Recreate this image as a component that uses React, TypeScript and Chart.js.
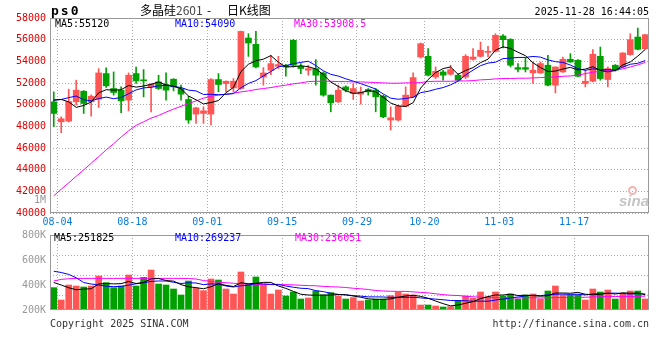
import React, { useEffect, useRef } from "react";
import { Chart, registerables } from "chart.js";

Chart.register(...registerables);

const DATES = [
  "08-01","08-04","08-05","08-06","08-07","08-08","08-11","08-12","08-13","08-14","08-15",
  "08-18","08-19","08-20","08-21","08-22","08-25","08-26","08-27","08-28","08-29",
  "09-01","09-02","09-03","09-04","09-05","09-08","09-09","09-10","09-11","09-12",
  "09-15","09-16","09-17","09-18","09-19","09-22","09-23","09-24","09-25","09-26","09-29","09-30",
  "10-09","10-10","10-13","10-14","10-15","10-16","10-17","10-20","10-21","10-22","10-23","10-24",
  "10-27","10-28","10-29","10-30","10-31",
  "11-03","11-04","11-05","11-06","11-07","11-10","11-11","11-12","11-13","11-14",
  "11-17","11-18","11-19","11-20","11-21","11-24","11-25","11-26","11-27","11-28",
];
const DATE_TICKS = ["08-04", "08-18", "09-01", "09-15", "09-29", "10-20", "11-03", "11-17"];

const OPEN = [
  50260,48420,48480,50260,51240,50260,50510,52870,51490,51340,
  50420,52870,52260,51640,52100,51860,52350,51490,50480,49130,
  49190,49130,52320,51950,51550,51490,56150,55570,52560,53180,
  53540,53640,55940,53540,53180,53330,52930,50880,50260,51640,
  51030,50970,51400,51340,50780,48580,48580,49860,50720,54400,
  54460,52560,53020,52810,52720,52560,54190,54460,54830,54920,
  56340,56030,53420,53420,52930,52930,53640,51800,53020,54190,
  54100,51950,52160,54460,52320,53640,53480,54620,56240,55170,
];
const HIGH = [
  51180,48880,51430,52260,51300,50900,53330,53390,53020,51640,
  52930,53480,53240,51950,52720,52930,52400,51800,50780,49750,
  49800,52410,52870,52200,52410,56800,56550,56760,53420,54560,
  54460,53730,56030,53790,53640,54160,53020,50900,51800,51740,
  51950,51640,51490,51490,50880,49800,49960,51640,52930,55700,
  55170,53480,53180,53640,52870,54620,55170,55780,55380,56550,
  56460,56090,53790,54340,53940,53940,54560,53500,54400,54710,
  54160,53180,55080,55320,53480,53700,54800,56550,57070,56500,
];
const LOW = [
  47960,47410,48400,49960,49190,48940,49740,51600,50880,49250,
  49430,51950,50720,49340,51400,50420,51270,50420,48270,48270,
  48270,48120,51180,51180,51180,51400,54460,53390,51800,52780,
  53330,52620,53480,52870,52720,51800,50780,49340,50200,51180,
  50480,50050,50880,49340,48790,47660,48500,49800,50660,54300,
  52650,52410,52260,52720,52200,52410,54100,54400,54400,54860,
  55230,53480,53020,53020,51950,52870,51740,51090,52980,53900,
  52560,51640,52100,52260,51640,53100,53420,54560,55050,55100,
];
const CLOSE = [
  49190,48700,50290,51340,50110,50780,52930,51740,51120,50350,
  52720,52190,52200,51890,51490,51340,51640,50970,48580,49710,
  49430,52320,51860,52160,52160,56760,55690,53480,52930,53790,
  53700,53480,53640,53330,53330,52720,50880,50170,51340,51340,
  51490,51180,51180,50720,48880,48790,49860,50880,52500,55630,
  52720,53080,52720,53240,52260,54460,54400,55020,54880,56400,
  56000,53640,53270,53270,53180,53790,51800,53480,54190,53940,
  52620,52160,54650,52410,53330,53180,54770,56000,55110,56460,
];

const MA5 = [
  50420,50480,50260,49750,49930,50240,51090,51380,51340,51380,
  51770,51620,51720,51870,52100,51820,51710,51470,50800,50450,
  50070,50200,50380,51100,51590,53050,53730,54050,54200,54530,
  53920,53480,53510,53590,53500,53300,52780,52090,51690,51290,
  51040,51100,51310,51180,50690,50150,49890,49830,50180,51530,
  52320,52960,53330,53480,52800,53150,53420,53880,54200,55030,
  55340,55190,54840,54520,53870,53430,53060,53100,53290,53440,
  53210,53280,53510,53160,53030,53150,53670,53940,54480,55100,
];
const MA10 = [
  50420,50480,50650,50800,50450,50350,50560,50700,50550,50660,
  51010,51360,51550,51600,51740,51800,51670,51590,51340,51270,
  50940,50960,50920,50950,51020,51560,51960,52220,52650,53060,
  53490,53600,53780,53900,54010,53610,53130,52800,52640,52390,
  52170,51940,51700,51440,50990,50600,50500,50570,50680,51110,
  51230,51420,51580,51830,52170,52740,53190,53600,53840,53920,
  54250,54300,54360,54360,54450,54390,54130,53970,53900,53660,
  53320,53170,53310,53220,53240,53180,53470,53730,53820,54070,
];
const MA30 = [
  41580,42200,42780,43390,43980,44590,45200,45820,46400,47010,
  47590,48090,48420,48760,49000,49310,49590,49850,50100,50350,
  50600,50780,50880,50970,51060,51180,51270,51400,51490,51580,
  51700,51800,51920,52010,52130,52160,52160,52160,52130,52130,
  52100,52100,52070,52040,52010,51980,51980,52010,52010,52040,
  52130,52160,52160,52160,52190,52190,52220,52290,52320,52380,
  52410,52410,52440,52440,52470,52500,52530,52560,52620,52650,
  52720,52870,52990,53080,53150,53210,53300,53480,53670,53900,
];

// volume, in K as labelled on the volume axis
const VOLUME = [
  379,280,400,392,384,392,472,419,379,392,
  480,392,461,520,408,400,368,320,432,373,
  355,448,440,368,328,504,408,464,400,328,
  360,312,344,288,296,352,320,339,312,288,
  299,272,280,288,288,315,341,328,320,240,
  240,232,224,227,277,312,293,344,307,344,
  312,328,288,320,328,288,352,392,320,320,
  320,280,368,344,360,288,328,352,352,288,
];
const VOL_MA5 = [
  420,400,378,362,367,370,408,412,409,411,
  428,412,421,449,452,436,431,403,386,379,
  370,386,410,397,388,418,410,414,421,421,
  392,373,349,326,320,318,320,319,324,322,
  312,302,290,285,285,289,302,312,318,309,
  294,272,251,233,240,254,267,291,307,320,
  320,327,316,318,315,310,315,336,336,334,
  341,326,322,326,334,328,338,334,336,322,
];
const VOL_MA10 = [
  510,500,485,458,420,408,400,390,387,389,
  399,410,417,429,432,432,422,412,418,416,
  403,409,407,392,384,394,398,412,409,405,
  405,392,382,374,371,355,347,334,325,321,
  315,311,305,305,304,301,302,301,302,297,
  292,287,282,276,275,274,270,271,270,280,
  287,297,304,313,318,315,321,326,327,325,
  326,321,329,331,334,335,332,328,331,328,
];
const VOL_MA30 = [
  432,445,450,453,453,453,453,453,453,453,
  453,453,453,453,453,453,453,453,452,448,
  436,428,422,418,414,410,407,405,404,403,
  402,403,401,398,395,394,389,386,384,380,
  374,370,364,356,352,350,349,349,345,341,
  337,330,323,318,316,310,306,302,299,299,
  298,298,296,298,299,296,298,299,300,301,
  301,302,305,306,309,308,307,308,309,311,
];
const VOL_TICKS = [200, 400, 600, 800];
const VOL_GRID = [320, 480, 640];

const UP = "#ff5555";
const DOWN = "#00a000";
const GRID = "#aaaaaa";
const MONO = '"DejaVu Sans Mono", monospace';

const candleColors = CLOSE.map((c, i) => (c >= OPEN[i] ? UP : DOWN));

const framePlugin = {
  id: "frame",
  afterDraw(chart: any) {
    const { ctx, chartArea: a } = chart;
    ctx.save();
    ctx.strokeStyle = "#999999";
    ctx.lineWidth = 1;
    ctx.strokeRect(
      Math.round(a.left) + 0.5,
      Math.round(a.top) + 0.5,
      Math.round(a.right - a.left) - 1,
      Math.round(a.bottom - a.top) - 1
    );
    ctx.restore();
  },
};

const xGridColor = (ctx: any) =>
  typeof ctx.index === "number" && DATE_TICKS.includes(DATES[ctx.index]) ? GRID : "rgba(0,0,0,0)";

function line(label: string, data: number[], color: string, yAxisID = "y") {
  return {
    type: "line" as const,
    label,
    data,
    yAxisID,
    borderColor: color,
    backgroundColor: color,
    borderWidth: 1,
    pointRadius: 0,
    tension: 0,
    order: 0,
  };
}

function Txt(props: { x?: number; r?: number; top: number; color?: string; size?: number; font?: string; weight?: any; ls?: number; children: any; italic?: boolean }) {
  const s: React.CSSProperties = {
    position: "absolute",
    top: props.top,
    whiteSpace: "pre",
    fontFamily: props.font || MONO,
    fontSize: props.size || 10,
    lineHeight: `${props.size || 10}px`,
    color: props.color || "#000",
    fontWeight: props.weight || "normal",
    letterSpacing: props.ls ? `${props.ls}px` : undefined,
    fontStyle: props.italic ? "italic" : "normal",
  };
  if (props.r !== undefined) s.right = 660 - props.r;
  else s.left = props.x;
  return <div style={s}>{props.children}</div>;
}

export default function App() {
  const mainRef = useRef<HTMLCanvasElement>(null);
  const volRef = useRef<HTMLCanvasElement>(null);

  useEffect(() => {
    const main = new Chart(mainRef.current as HTMLCanvasElement, {
      type: "bar",
      data: {
        labels: DATES,
        datasets: [
          line("MA5", MA5, "#000000"),
          line("MA10", MA10, "#0000ff"),
          line("MA30", MA30, "#ff00ff"),
          {
            type: "bar",
            label: "body",
            data: OPEN.map((o, i) => [o, CLOSE[i]]),
            backgroundColor: candleColors,
            borderWidth: 0,
            barThickness: 6,
            minBarLength: 1,
            grouped: false,
            order: 1,
          } as any,
          {
            type: "bar",
            label: "wick",
            data: LOW.map((l, i) => [l, HIGH[i]]),
            backgroundColor: candleColors,
            borderWidth: 0,
            barThickness: 1,
            grouped: false,
            order: 2,
          } as any,
        ],
      },
      options: {
        responsive: false,
        animation: false,
        events: [],
        layout: { padding: { top: 18, right: 11, left: 0, bottom: 0 } },
        plugins: { legend: { display: false }, tooltip: { enabled: false } },
        scales: {
          x: {
            type: "category",
            offset: true,
            grid: { offset: true, color: xGridColor, lineWidth: 1, drawTicks: false },
            border: { display: false, dash: [1, 2] },
            ticks: {
              autoSkip: false,
              maxRotation: 0,
              minRotation: 0,
              labelOffset: -3.75,
              padding: 3,
              color: "#0a7cd8",
              font: { family: MONO, size: 10 },
              callback: (_v: any, i: number) => (DATE_TICKS.includes(DATES[i]) ? DATES[i] : ""),
            },
            afterFit: (s: any) => {
              s.height = 19;
            },
          },
          y: {
            min: 40000,
            max: 58000,
            grid: { color: GRID, drawTicks: false },
            border: { display: false, dash: [1, 2] },
            ticks: {
              stepSize: 2000,
              padding: 4,
              color: "#e00000",
              font: { family: MONO, size: 10 },
              callback: (v: any) => String(v),
            },
            afterFit: (s: any) => {
              s.width = 50;
            },
          },
        },
      } as any,
      plugins: [framePlugin],
    });

    const vol = new Chart(volRef.current as HTMLCanvasElement, {
      type: "bar",
      data: {
        labels: DATES,
        datasets: [
          line("MA5", VOL_MA5, "#000000"),
          line("MA10", VOL_MA10, "#0000ff"),
          line("MA30", VOL_MA30, "#ff00ff"),
          {
            type: "bar",
            label: "volume",
            data: VOLUME,
            backgroundColor: candleColors,
            borderWidth: 0,
            barThickness: 6,
            order: 1,
          } as any,
        ],
      },
      options: {
        responsive: false,
        animation: false,
        events: [],
        layout: { padding: { top: 10, right: 11, left: 0, bottom: 20 } },
        plugins: { legend: { display: false }, tooltip: { enabled: false } },
        scales: {
          x: {
            type: "category",
            offset: true,
            grid: { offset: true, color: xGridColor, lineWidth: 1, drawTicks: false },
            border: { display: false, dash: [1, 2] },
            ticks: { display: false, autoSkip: false },
            afterFit: (s: any) => {
              s.height = 0;
            },
          },
          y: {
            min: 200,
            max: 800,
            grid: { display: false, drawTicks: false },
            border: { display: false },
            afterBuildTicks: (axis: any) => {
              axis.ticks = VOL_TICKS.map((v) => ({ value: v }));
            },
            ticks: {
              padding: 4,
              color: "#999999",
              font: { family: MONO, size: 10 },
              callback: (v: any) => `${v}K`,
            },
            afterFit: (s: any) => {
              s.width = 50;
            },
          },
          yg: {
            position: "right",
            min: 200,
            max: 800,
            grid: { color: GRID, drawTicks: false },
            border: { display: false, dash: [1, 2] },
            afterBuildTicks: (axis: any) => {
              axis.ticks = VOL_GRID.map((v) => ({ value: v }));
            },
            ticks: { display: false },
            afterFit: (s: any) => {
              s.width = 0;
            },
          },
        },
      } as any,
      plugins: [framePlugin],
    });

    return () => {
      main.destroy();
      vol.destroy();
    };
  }, []);

  return (
    <div style={{ position: "absolute", left: 0, top: 0, width: 660, height: 360, background: "#fff", overflow: "hidden" }}>
      <canvas ref={mainRef} width={660} height={232} style={{ position: "absolute", left: 0, top: 0, width: 660, height: 232 }} />
      <canvas ref={volRef} width={660} height={105} style={{ position: "absolute", left: 0, top: 225, width: 660, height: 105 }} />

      <Txt x={51} top={4} size={13} weight="bold" ls={2}>ps0</Txt>
      <Txt x={140} top={4} size={12} font='"Noto Sans CJK SC", sans-serif'>多晶硅<span style={{ color: "#444" }}>2601</span></Txt>
      <Txt x={207} top={4} size={12} font='"Noto Sans CJK SC", sans-serif'>-</Txt>
      <Txt x={227} top={4} size={12} font='"Noto Sans CJK SC", sans-serif'>日K线图</Txt>
      <Txt r={649} top={7}>2025-11-28 16:44:05</Txt>

      <Txt x={55} top={19}>MA5:55120</Txt>
      <Txt x={175} top={19} color="#0000ff">MA10:54090</Txt>
      <Txt x={294} top={19} color="#ff00ff">MA30:53908.5</Txt>

      <Txt r={46} top={195} color="#999999">1M</Txt>
      <div style={{ position: "absolute", left: 628, top: 186, width: 9, height: 9, borderRadius: "50%", border: "2px solid #f4b4b4", boxSizing: "border-box" }} />
      <Txt x={619} top={193} size={15} weight="bold" italic font='"Liberation Sans", sans-serif' color="#c4c4c4">sina</Txt>

      <Txt x={54} top={233} >MA5:251825</Txt>
      <Txt x={175} top={233} color="#0000ff">MA10:269237</Txt>
      <Txt x={295} top={233} color="#ff00ff">MA30:236051</Txt>

      <Txt x={50} top={319} color="#333">Copyright 2025 SINA.COM</Txt>
      <Txt r={649} top={319} color="#333">http://finance.sina.com.cn</Txt>
    </div>
  );
}
